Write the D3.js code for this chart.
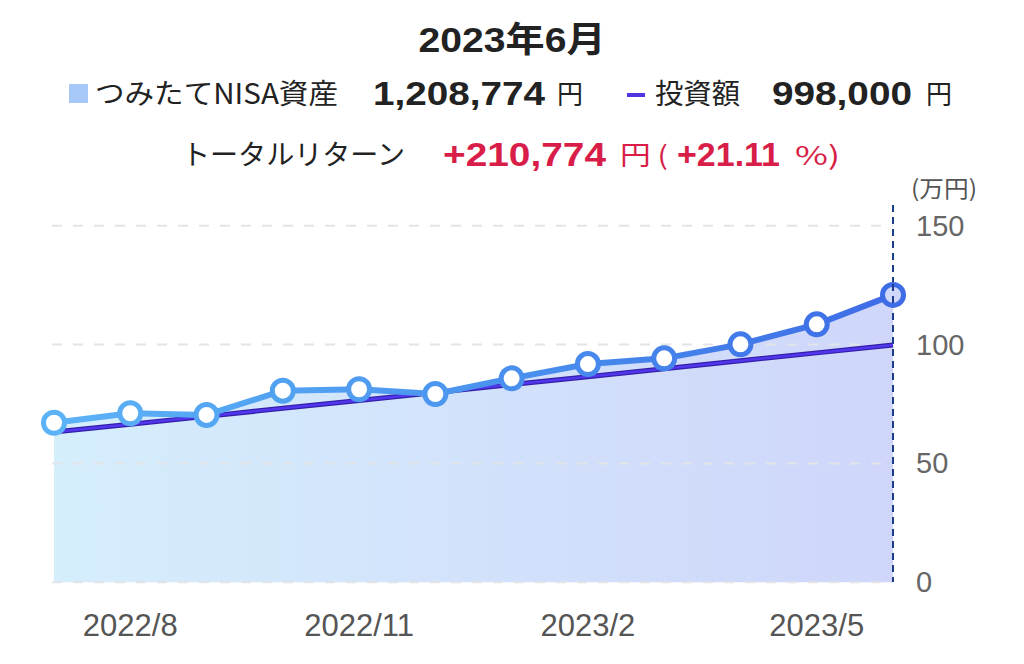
<!DOCTYPE html>
<html><head><meta charset="utf-8">
<script src="https://cdn.jsdelivr.net/npm/d3@7"></script>
<style>
html,body{margin:0;padding:0;background:#fff;}
svg{display:block;}
text{font-family:"Liberation Sans","Noto Sans CJK JP",sans-serif;}
.jp{font-family:"Noto Sans CJK JP","Liberation Sans",sans-serif;}
</style></head>
<body>
<svg id="chart" width="1024" height="664"></svg>
<script>
const months = ["2022/7","2022/8","2022/9","2022/10","2022/11","2022/12","2023/1","2023/2","2023/3","2023/4","2023/5","2023/6"];
const assetValues = [67.1, 71.1, 70.4, 80.6, 81.2, 79.2, 85.8, 91.8, 94.2, 100.1, 108.5, 120.9];
const investValues = [63.2, 66.5, 69.8, 73.2, 76.5, 79.8, 83.2, 86.5, 89.8, 93.2, 96.5, 99.8];
const yTicks = [0, 50, 100, 150];
const xTickLabels = ["2022/8","2022/11","2023/2","2023/5"];
const titleText = "2023年6月";
const assetLabel = "つみたてNISA資産";
const assetTotal = "1,208,774";
const investLabel = "投資額";
const investTotal = "998,000";
const returnLabel = "トータルリターン";
const returnValue = "+210,774";
const returnPct = "+21.11";
const unitLabel = "(万円)";

const svg = d3.select("#chart");
const defs = svg.append("defs");
const x = d3.scalePoint().domain(months).range([54, 893]);
const y = d3.scaleLinear().domain([0, 150]).range([582.3, 225.7]);

const ag = defs.append("linearGradient").attr("id","areaGrad").attr("gradientUnits","userSpaceOnUse")
  .attr("x1",54).attr("x2",893).attr("y1",0).attr("y2",0);
ag.append("stop").attr("offset","0%").attr("stop-color","#d5eefc");
ag.append("stop").attr("offset","100%").attr("stop-color","#cfd6fa");
const lg = defs.append("linearGradient").attr("id","lineGrad").attr("gradientUnits","userSpaceOnUse")
  .attr("x1",54).attr("x2",893).attr("y1",0).attr("y2",0);
lg.append("stop").attr("offset","0%").attr("stop-color","#5cb2f6");
lg.append("stop").attr("offset","50%").attr("stop-color","#4a94ef");
lg.append("stop").attr("offset","100%").attr("stop-color","#3e6ce6");

const data = months.map((m,i)=>({m, a:assetValues[i], v:investValues[i]}));

// area
svg.append("path").datum(data)
  .attr("d", d3.area().x(d=>x(d.m)).y0(y(0)).y1(d=>y(d.a)))
  .attr("fill","url(#areaGrad)");

// grid
svg.append("g").selectAll("line").data(yTicks).join("line")
  .attr("x1",52).attr("x2",893).attr("y1",d=>y(d)).attr("y2",d=>y(d))
  .attr("stroke","#e2e4e8").attr("stroke-width",2).attr("stroke-dasharray","10,11");

// y axis labels
svg.append("g").selectAll("text").data(yTicks).join("text")
  .attr("x",916).attr("y",d=>y(d)+10).attr("font-size",29).attr("fill","#666")
  .text(d=>d);
svg.append("text").attr("class","jp").attr("x",911).attr("y",197).attr("font-size",23).attr("fill","#555")
  .attr("textLength",66).attr("lengthAdjust","spacingAndGlyphs").text(unitLabel);

// x labels
svg.append("g").selectAll("text").data(xTickLabels).join("text")
  .attr("x",d=>x(d)).attr("y",636).attr("text-anchor","middle").attr("font-size",31).attr("fill","#555")
  .text(d=>d);

// invest line
const invLine = d3.line().x(d=>x(d.m)).y(d=>y(d.v));
svg.append("path").datum(data).attr("d",invLine).attr("fill","none").attr("stroke","#3320a8").attr("stroke-width",5);
svg.append("path").datum(data).attr("d",invLine).attr("fill","none").attr("stroke","#5236ee").attr("stroke-width",2.5);

// vertical dashed line
const lastX = x(months[months.length-1]);
svg.append("line").attr("x1",lastX).attr("x2",lastX)
  .attr("y1",205).attr("y2",582).attr("stroke","#1c3d8c").attr("stroke-width",2).attr("stroke-dasharray","7,5");

// asset line
svg.append("path").datum(data).attr("d", d3.line().x(d=>x(d.m)).y(d=>y(d.a)))
  .attr("fill","none").attr("stroke","url(#lineGrad)").attr("stroke-width",6).attr("stroke-linejoin","round");

// points
const colorAt = d3.scaleLinear().domain([54, 473, 893]).range(["#5cb2f6","#4a94ef","#3e6ce6"]);
svg.append("g").selectAll("circle").data(data).join("circle")
  .attr("cx",d=>x(d.m)).attr("cy",d=>y(d.a)).attr("r",10.5)
  .attr("fill",(d,i)=>i===data.length-1?"#cfd8fa":"#fff")
  .attr("stroke",d=>colorAt(x(d.m))).attr("stroke-width",5);
// dashed line over last point
svg.append("line").attr("x1",lastX).attr("x2",lastX)
  .attr("y1",284).attr("y2",307).attr("stroke","#1c3d8c").attr("stroke-width",2).attr("stroke-dasharray","7,5");

// header
svg.append("text").attr("x",512).attr("y",52).attr("text-anchor","middle").attr("font-size",35).attr("font-weight","bold").attr("fill","#222")
  .attr("textLength",187).attr("lengthAdjust","spacingAndGlyphs").text(titleText);

function t(str, xx, yy, size, opts){
  const el = svg.append("text").attr("x",xx).attr("y",yy).attr("font-size",size)
    .attr("fill",opts.fill||"#222").text(str);
  if(opts.jp) el.attr("class","jp");
  if(opts.bold) el.attr("font-weight","bold");
  if(opts.len) el.attr("textLength",opts.len).attr("lengthAdjust","spacingAndGlyphs");
  return el;
}
// legend row
svg.append("rect").attr("x",69).attr("y",84).attr("width",19).attr("height",19).attr("fill","#a6c8f8");
t(assetLabel, 95, 104, 28, {jp:true, len:243});
t(assetTotal, 373, 105, 33, {bold:true, len:172});
t("円", 557, 104, 26, {jp:true});
svg.append("rect").attr("x",627).attr("y",93).attr("width",18).attr("height",4).attr("fill","#5233e2");
t(investLabel, 655, 104, 28, {jp:true, len:85});
t(investTotal, 772, 105, 33, {bold:true, len:140});
t("円", 926, 104, 26, {jp:true});

// return row
const red = "#d81e48";
t(returnLabel, 182, 165, 28, {jp:true, len:223});
t(returnValue, 443, 166, 33, {bold:true, fill:red, len:163});
t("円 (", 620, 165, 26, {jp:true, fill:red, len:48});
t(returnPct, 677, 166, 33, {bold:true, fill:red, len:103});
t("%)", 795, 165, 26, {jp:true, fill:red, len:45});
</script>
</body></html>
